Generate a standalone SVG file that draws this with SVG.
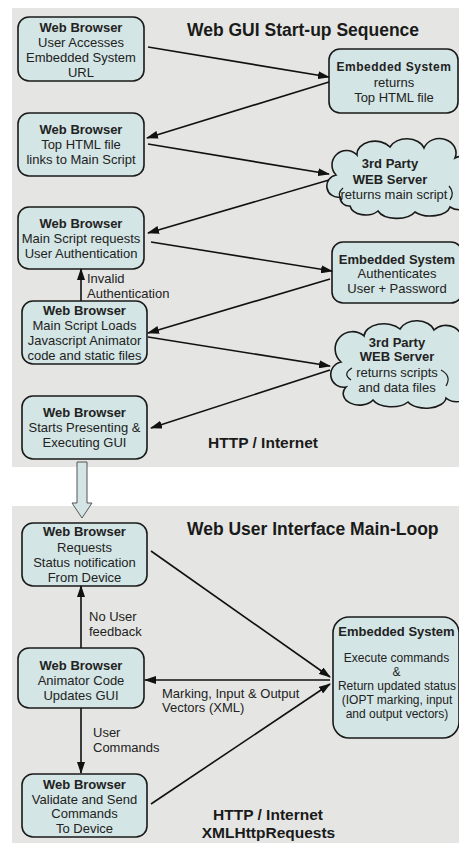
<svg xmlns="http://www.w3.org/2000/svg" width="459" height="843" viewBox="0 0 459 843">
<defs>
<marker id="ah" markerUnits="userSpaceOnUse" markerWidth="12" markerHeight="8" refX="11" refY="4" orient="auto">
<path d="M0,0 L12,4 L0,8 z" fill="#111"/>
</marker>
<style>
.panel{fill:#e5e6e3}
.box{fill:#d3e5e4;stroke:#1a1a1a;stroke-width:1.6}
.t{font-family:"Liberation Sans",Arial,sans-serif;font-size:13px;fill:#222;text-anchor:middle}
.b{font-weight:bold}
.s{font-size:12px}
.l{font-family:"Liberation Sans",Arial,sans-serif;font-size:13px;fill:#222}
.title{font-family:"Liberation Sans",Arial,sans-serif;font-size:17.5px;font-weight:bold;fill:#1a1a1a}
.http{font-family:"Liberation Sans",Arial,sans-serif;font-size:15.5px;font-weight:bold;fill:#1a1a1a}
.c{stroke:#111;stroke-width:1.6;fill:none;marker-end:url(#ah)}
.detail{fill:none;stroke:#1a1a1a;stroke-width:1.2}
</style>
</defs>
<rect width="459" height="843" fill="#ffffff"/>
<rect class="panel" x="12" y="8" width="447" height="459"/>
<rect class="panel" x="12" y="506" width="447" height="337"/>

<text class="title" x="187" y="36">Web GUI Start-up Sequence</text>
<text class="http" x="208" y="447.5">HTTP / Internet</text>
<text class="title" x="187" y="535">Web User Interface Main-Loop</text>
<text class="http" x="268" y="819.5" text-anchor="middle">HTTP / Internet</text>
<text class="http" x="268.5" y="837.5" text-anchor="middle">XMLHttpRequests</text>

<g id="wb1">
<rect class="box" x="18" y="17" width="126" height="64" rx="11"/>
<text class="t b" x="81" y="32">Web Browser</text>
<text class="t" x="81" y="47">User Accesses</text>
<text class="t" x="81" y="62">Embedded System</text>
<text class="t" x="81" y="77">URL</text>
</g>
<g id="wb2">
<rect class="box" x="18" y="113" width="126" height="63" rx="11"/>
<text class="t b" x="81" y="134">Web Browser</text>
<text class="t" x="81" y="149">Top HTML file</text>
<text class="t" x="81" y="164">links to Main Script</text>
</g>
<g id="wb3">
<rect class="box" x="18" y="207" width="126" height="62" rx="11"/>
<text class="t b" x="81" y="228">Web Browser</text>
<text class="t" x="81" y="243">Main Script requests</text>
<text class="t" x="81" y="258">User Authentication</text>
</g>
<g id="wb4">
<rect class="box" x="22" y="301" width="125" height="63" rx="11"/>
<text class="t b" x="84.5" y="315">Web Browser</text>
<text class="t" x="84.5" y="330">Main Script Loads</text>
<text class="t" x="84.5" y="345">Javascript Animator</text>
<text class="t" x="84.5" y="360">code and static files</text>
</g>
<g id="wb5">
<rect class="box" x="22" y="396" width="125" height="63" rx="11"/>
<text class="t b" x="84.5" y="417">Web Browser</text>
<text class="t" x="84.5" y="432">Starts Presenting &amp;</text>
<text class="t" x="84.5" y="447">Executing GUI</text>
</g>

<g id="es1">
<rect class="box" x="329" y="49" width="129" height="64" rx="11"/>
<text class="t b s" x="394" y="71" letter-spacing="0.5">Embedded System</text>
<text class="t" x="394" y="86.5">returns</text>
<text class="t" x="394" y="101.5">Top HTML file</text>
</g>
<g id="cloud1">
<path class="box" d="M340,197 A11,11 0 0 1 336,175 A13,13 0 0 1 357,155 A18,13 0 0 1 390,147 A18,13 0 0 1 424,148 A16,14 0 0 1 455,158 A15,15 0 0 1 469,186 A14,12 0 0 1 450,207 A20,11 0 0 1 415,212 A20,11 0 0 1 378,211 A16,11 0 0 1 350,206 A9,9 0 0 1 340,197 Z"/>
<path class="detail" d="M343,188 Q336,194 342,200"/>
<path class="detail" d="M449,186 Q455,193 450,200"/>
<text class="t b" x="390" y="167.5">3rd Party</text>
<text class="t b" x="390" y="183.5">WEB Server</text>
<text class="t" x="394" y="198.5">returns main script</text>
</g>
<g id="es2">
<rect class="box" x="332" y="242" width="130" height="61" rx="11"/>
<text class="t b" x="397" y="263.5">Embedded System</text>
<text class="t" x="397" y="277.5">Authenticates</text>
<text class="t" x="397" y="292.5">User + Password</text>
</g>
<g id="cloud2">
<path class="box" d="M346,387 A11,11 0 0 1 341,362 A14,14 0 0 1 364,336 A20,13 0 0 1 400,329 A18,13 0 0 1 434,330 A16,14 0 0 1 461,344 A15,18 0 0 1 467,380 A14,12 0 0 1 446,398 A20,11 0 0 1 408,402 A20,11 0 0 1 373,400 A14,10 0 0 1 346,387 Z"/>
<path class="detail" d="M352,368 Q342,374 351,380"/>
<path class="detail" d="M441,370 Q452,376 446,386"/>
<text class="t b" x="397" y="346.5">3rd Party</text>
<text class="t b" x="397" y="360.5">WEB Server</text>
<text class="t" x="397" y="376.5">returns scripts</text>
<text class="t" x="397" y="391.5">and data files</text>
</g>

<g id="hollow-arrow">
<polygon points="77,462 87,462 87,503 92,503 82,518 72,503 77,503" fill="#d3e5e4" stroke="#555" stroke-width="1"/>
</g>

<g id="wb6">
<rect class="box" x="22" y="523" width="125" height="63" rx="11"/>
<text class="t b" x="84.5" y="535.5">Web Browser</text>
<text class="t" x="84.5" y="551.5">Requests</text>
<text class="t" x="84.5" y="566.5">Status notification</text>
<text class="t" x="84.5" y="581.5">From Device</text>
</g>
<g id="wb7">
<rect class="box" x="18" y="648" width="126" height="60" rx="11"/>
<text class="t b" x="81" y="669.5">Web Browser</text>
<text class="t" x="81" y="684.5">Animator Code</text>
<text class="t" x="81" y="699.5">Updates GUI</text>
</g>
<g id="wb8">
<rect class="box" x="22" y="774" width="125" height="63" rx="11"/>
<text class="t b" x="84.5" y="788.5">Web Browser</text>
<text class="t" x="84.5" y="803.5">Validate and Send</text>
<text class="t" x="84.5" y="817.5">Commands</text>
<text class="t" x="84.5" y="832.5">To Device</text>
</g>
<g id="es3">
<rect class="box" x="333" y="617" width="126" height="121" rx="16"/>
<text class="t b" x="396.5" y="635.5">Embedded System</text>
<text class="t s" x="396.5" y="662">Execute commands</text>
<text class="t s" x="396.5" y="676">&amp;</text>
<text class="t s" x="397" y="690">Return updated status</text>
<text class="t s" x="397" y="704">(IOPT marking, input</text>
<text class="t s" x="397" y="718">and output vectors)</text>
</g>

<g id="connectors">
<line class="c" x1="148" y1="47" x2="329" y2="77"/>
<line class="c" x1="329" y1="82" x2="147" y2="138"/>
<line class="c" x1="148" y1="144" x2="329" y2="174"/>
<line class="c" x1="329" y1="180" x2="148" y2="233"/>
<line class="c" x1="151" y1="242" x2="332" y2="271"/>
<line class="c" x1="330" y1="279" x2="148" y2="333"/>
<line class="c" x1="148" y1="337" x2="330" y2="366"/>
<line class="c" x1="330" y1="370" x2="151" y2="428"/>
<line class="c" x1="81" y1="301" x2="81" y2="269"/>
<line class="c" x1="151" y1="551" x2="330" y2="677"/>
<line class="c" x1="330" y1="680" x2="145" y2="680"/>
<line class="c" x1="151" y1="804" x2="330" y2="684"/>
<line class="c" x1="81" y1="648" x2="81" y2="586"/>
<line class="c" x1="81" y1="708" x2="81" y2="773"/>
</g>
<g id="labels">
<text class="l" x="87" y="282.5">Invalid</text>
<text class="l" x="87" y="297.5">Authentication</text>
<text class="l" x="89" y="620.5">No User</text>
<text class="l" x="89" y="635.5">feedback</text>
<text class="l" x="93" y="736.5">User</text>
<text class="l" x="93" y="751.5">Commands</text>
<text class="l" x="162" y="697.5">Marking, Input &amp; Output</text>
<text class="l" x="162" y="711.5">Vectors (XML)</text>
</g>
</svg>
